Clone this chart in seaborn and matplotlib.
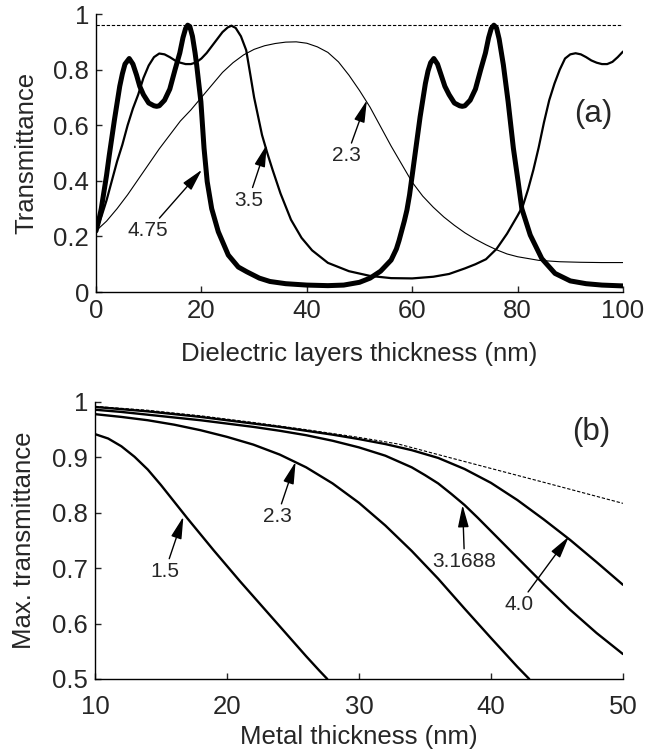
import numpy as np
import pandas as pd
import matplotlib
matplotlib.use("Agg")
import matplotlib.pyplot as plt
import seaborn as sns

# ---------------- data: panel (a) ----------------
x_475 = [0, 0.5, 1, 1.5, 2, 2.5, 3, 3.5, 4, 4.5, 5, 5.5, 6.3, 7, 7.7, 8.3, 9, 10, 11,
         11.5, 12, 13, 14, 15, 15.9, 16.5, 17, 17.4, 17.8, 18.3, 18.8, 19.1, 19.5,
         19.9, 20.5, 21.1, 21.95, 23.2, 25.1, 27, 28.6, 31, 33, 36, 40, 44, 47, 50, 52,
         54, 56, 57, 57.5, 58, 58.5, 59, 59.5, 60, 60.5, 61, 61.5, 62, 62.5, 63, 63.5,
         64.1, 64.8, 65.5, 66.2, 67, 68, 69, 69.5, 70, 71, 72, 73, 73.9, 74.5, 75,
         75.5, 76, 76.5, 77.3, 78.2, 79.2, 80.1, 80.8, 82.4, 84.6, 87.1, 90, 93, 96, 100]
y_475 = [0.22, 0.255, 0.30, 0.36, 0.42, 0.49, 0.555, 0.62, 0.68, 0.74, 0.785, 0.82,
         0.84, 0.82, 0.78, 0.74, 0.71, 0.68, 0.67, 0.668, 0.67, 0.69, 0.73, 0.80, 0.86,
         0.915, 0.948, 0.96, 0.955, 0.92, 0.86, 0.817, 0.75, 0.685, 0.517, 0.397, 0.30,
         0.217, 0.133, 0.09, 0.073, 0.05, 0.038, 0.03, 0.025, 0.023, 0.025, 0.035, 0.05,
         0.075, 0.115, 0.155, 0.185, 0.22, 0.255, 0.295, 0.35, 0.42, 0.49, 0.56, 0.63,
         0.69, 0.75, 0.795, 0.825, 0.84, 0.82, 0.78, 0.74, 0.71, 0.68, 0.67, 0.668,
         0.67, 0.69, 0.73, 0.80, 0.86, 0.915, 0.948, 0.96, 0.95, 0.91, 0.817, 0.685,
         0.517, 0.397, 0.30, 0.205, 0.12, 0.067, 0.04, 0.03, 0.025, 0.022]

x_35 = [0, 1, 2, 3, 4, 5, 6, 7, 8, 9, 10, 11, 12, 13, 14, 15, 16, 17, 18, 19, 20, 21,
        22, 23, 24, 25, 25.7, 26.5, 27.5, 28.5, 29.3, 30, 30.5, 31.5, 32.5, 33.5, 35,
        37, 39, 41, 44, 48, 52, 56, 60, 64, 67, 70, 72, 74, 76, 78, 80, 81, 82, 83, 84,
        85, 86, 87, 88, 89, 90, 91, 92, 93, 94, 95, 96, 97, 98, 99, 100]
y_35 = [0.22, 0.27, 0.33, 0.40, 0.47, 0.53, 0.60, 0.66, 0.71, 0.77, 0.815, 0.845, 0.858,
        0.855, 0.845, 0.833, 0.825, 0.82, 0.82, 0.826, 0.84, 0.86, 0.885, 0.91, 0.935,
        0.952, 0.958, 0.95, 0.92, 0.87, 0.78, 0.70, 0.655, 0.565, 0.50, 0.44, 0.355,
        0.26, 0.195, 0.15, 0.105, 0.075, 0.058, 0.05, 0.049, 0.055, 0.065, 0.085, 0.10,
        0.118, 0.155, 0.21, 0.275, 0.31, 0.37, 0.44, 0.52, 0.61, 0.69, 0.75, 0.80, 0.84,
        0.855, 0.859, 0.855, 0.845, 0.833, 0.825, 0.82, 0.82, 0.828, 0.845, 0.865]

x_23 = [0, 2, 4, 6, 8, 10, 12, 14, 16, 18, 20, 22, 24, 26, 28, 30, 32, 34, 36, 38, 40,
        42, 44, 46, 48, 50, 52, 54, 56, 58, 60, 62, 64, 66, 68, 70, 72, 74, 76, 78, 80,
        84, 88, 92, 96, 100]
y_23 = [0.22, 0.255, 0.30, 0.35, 0.405, 0.46, 0.515, 0.565, 0.615, 0.655, 0.70, 0.745,
        0.79, 0.825, 0.853, 0.873, 0.886, 0.894, 0.899, 0.90, 0.895, 0.882, 0.862, 0.828,
        0.78, 0.725, 0.665, 0.595, 0.525, 0.46, 0.395, 0.345, 0.305, 0.27, 0.24, 0.213,
        0.19, 0.17, 0.152, 0.137, 0.127, 0.114, 0.109, 0.107, 0.106, 0.106]

ref_a_x = [0, 100]
ref_a_y = [0.96, 0.96]

# ---------------- data: panel (b) ----------------
x_15 = [10, 11, 12, 13, 14, 15, 16, 17, 18, 19, 20, 21, 22, 23, 24, 25, 26, 27, 27.6]
y_15 = [0.942, 0.934, 0.920, 0.901, 0.878, 0.850, 0.820, 0.790, 0.761, 0.732, 0.704,
        0.676, 0.649, 0.622, 0.595, 0.568, 0.541, 0.515, 0.50]

x_b23 = [10, 12, 14, 16, 18, 20, 22, 24, 26, 28, 30, 32, 34, 36, 38, 40, 42, 42.9]
y_b23 = [0.978, 0.973, 0.967, 0.959, 0.949, 0.937, 0.923, 0.905, 0.882, 0.853, 0.818,
         0.777, 0.731, 0.681, 0.627, 0.574, 0.522, 0.50]

x_31688 = [10, 12, 14, 16, 18, 20, 22, 24, 26, 28, 30, 32, 34, 35, 36, 37, 38, 39, 40,
           41, 42, 43, 44, 46, 48, 50]
y_31688 = [0.986, 0.982, 0.977, 0.972, 0.967, 0.961, 0.955, 0.948, 0.940, 0.930, 0.918,
           0.903, 0.882, 0.868, 0.853, 0.834, 0.814, 0.791, 0.767, 0.743, 0.719, 0.695,
           0.671, 0.625, 0.583, 0.545]

x_40 = [10, 12, 14, 16, 18, 20, 22, 24, 26, 28, 30, 32, 34, 36, 38, 40, 42, 44, 46, 48,
        50]
y_40 = [0.991, 0.987, 0.983, 0.978, 0.973, 0.967, 0.961, 0.955, 0.948, 0.941, 0.933,
        0.924, 0.913, 0.899, 0.879, 0.854, 0.823, 0.788, 0.751, 0.711, 0.670]

ref_b_x = [10, 14, 18, 22, 26, 30, 33, 36, 40, 44, 47, 50]
ref_b_y = [0.992, 0.985, 0.975, 0.963, 0.950, 0.936, 0.924, 0.905, 0.880, 0.855, 0.836,
           0.817]

# ---------------- style ----------------
sns.set_style("white")
plt.rcParams['font.family'] = ['Liberation Sans', 'DejaVu Sans']
plt.rcParams['axes.edgecolor'] = 'black'
plt.rcParams['axes.linewidth'] = 1.0

fig = plt.figure(figsize=(6.47, 7.55), dpi=100)
ax1 = fig.add_axes([0.1484, 0.6132, 0.8145, 0.3682])
ax2 = fig.add_axes([0.1468, 0.1007, 0.8160, 0.3669])

TICK_FS = 18.5
LAB_FS = 18.5
ANN_FS = 15

def line(ax, xs, ys, lw, dashed=False):
    df = pd.DataFrame({"x": xs, "y": ys})
    sns.lineplot(data=df, x="x", y="y", ax=ax, color="black", linewidth=lw,
                 linestyle=(0, (3, 1.6)) if dashed else "-", estimator=None,
                 sort=False)

# panel (a)
line(ax1, ref_a_x, ref_a_y, 0.8, dashed=True)
line(ax1, x_23, y_23, 0.8)
line(ax1, x_35, y_35, 1.6)
line(ax1, x_475, y_475, 3.6)

ax1.set_xlim(0, 100)
ax1.set_ylim(0, 1)
ax1.set_xticks([0, 20, 40, 60, 80, 100])
ax1.set_yticks([0, 0.2, 0.4, 0.6, 0.8, 1])
ax1.set_yticklabels(["0", "0.2", "0.4", "0.6", "0.8", "1"])
ax1.set_xlabel("Dielectric layers thickness (nm)", fontsize=LAB_FS, labelpad=14)
ax1.set_ylabel("Transmittance", fontsize=LAB_FS, labelpad=11)

arrow = dict(arrowstyle="-|>,head_length=0.9,head_width=0.22", color="black",
             lw=1.0, shrinkA=0, shrinkB=0)
ax1.annotate("4.75", xy=(20.1, 0.44), xytext=(9.9, 0.22), fontsize=ANN_FS,
             ha="center", va="center", arrowprops=arrow)
ax1.annotate("3.5", xy=(32.4, 0.53), xytext=(28.9, 0.33), fontsize=ANN_FS,
             ha="center", va="center", arrowprops=arrow)
ax1.annotate("2.3", xy=(51.4, 0.69), xytext=(47.6, 0.49), fontsize=ANN_FS,
             ha="center", va="center", arrowprops=arrow)
ax1.text(94.3, 0.64, "(a)", fontsize=22.5, ha="center", va="center")

# panel (b)
line(ax2, ref_b_x, ref_b_y, 0.8, dashed=True)
line(ax2, x_15, y_15, 1.7)
line(ax2, x_b23, y_b23, 1.7)
line(ax2, x_31688, y_31688, 1.7)
line(ax2, x_40, y_40, 1.7)

ax2.set_xlim(10, 50)
ax2.set_ylim(0.5, 1)
ax2.set_xticks([10, 20, 30, 40, 50])
ax2.set_yticks([0.5, 0.6, 0.7, 0.8, 0.9, 1])
ax2.set_yticklabels(["0.5", "0.6", "0.7", "0.8", "0.9", "1"])
ax2.set_xlabel("Metal thickness (nm)", fontsize=LAB_FS, labelpad=4.5)
ax2.set_ylabel("Max. transmittance", fontsize=LAB_FS, labelpad=11.5)

ax2.annotate("1.5", xy=(16.7, 0.793), xytext=(15.3, 0.694), fontsize=ANN_FS,
             ha="center", va="center", arrowprops=arrow)
ax2.annotate("2.3", xy=(25.2, 0.892), xytext=(23.8, 0.793), fontsize=ANN_FS,
             ha="center", va="center", arrowprops=arrow)
ax2.annotate("3.1688", xy=(37.85, 0.814), xytext=(38.0, 0.712), fontsize=ANN_FS,
             ha="center", va="center", arrowprops=arrow)
ax2.annotate("4.0", xy=(45.9, 0.757), xytext=(42.1, 0.634), fontsize=ANN_FS,
             ha="center", va="center", arrowprops=arrow)
ax2.text(47.6, 0.946, "(b)", fontsize=22.5, ha="center", va="center")

for ax in (ax1, ax2):
    for s in ("top", "right"):
        ax.spines[s].set_visible(False)
    ax.tick_params(axis="both", direction="in", length=4.5, width=1,
                   labelsize=TICK_FS, pad=5, left=True, bottom=True)
    ax.set_facecolor("white")
ax2.tick_params(axis="x", pad=11.5)

fig.savefig("out.png", dpi=100, facecolor="white")
